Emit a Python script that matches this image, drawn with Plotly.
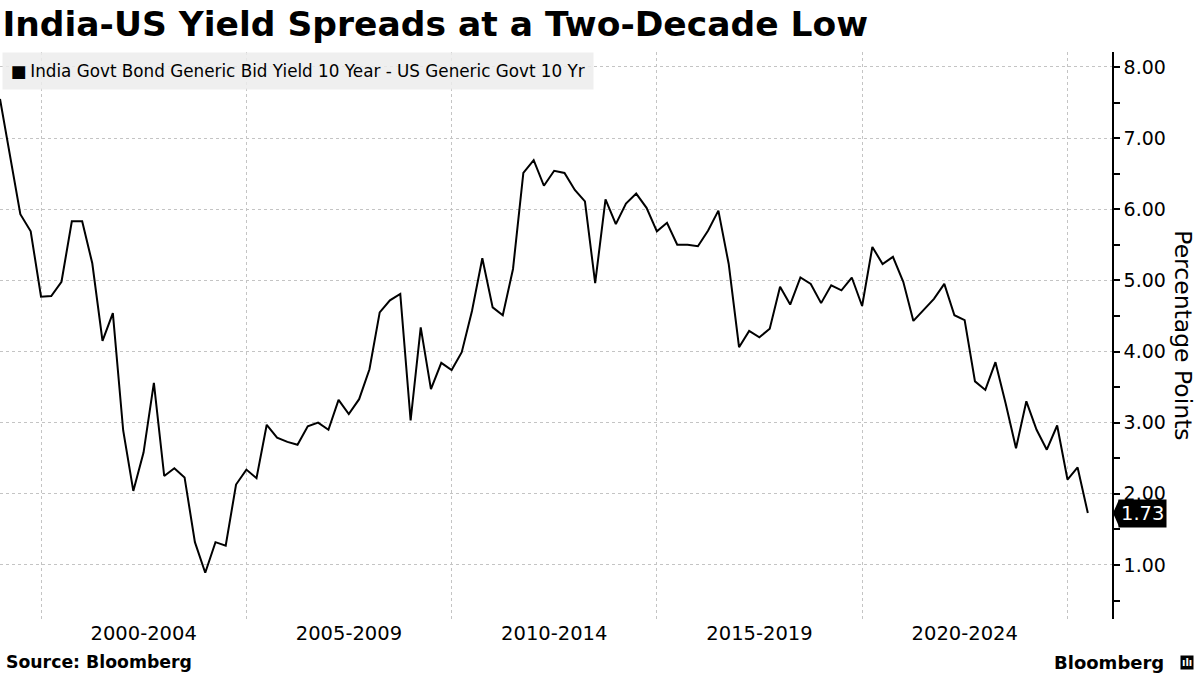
import pandas as pd
import plotly.graph_objects as go

# Quarterly spread, India 10Y minus US 10Y (percentage points), 1999Q1 - 2025Q3
spread = [
    7.55, 6.74, 5.93, 5.69, 4.77, 4.78, 4.98, 5.83, 5.83, 5.24,
    4.15, 4.54, 2.89, 2.04, 2.58, 3.56, 2.25, 2.36, 2.23, 1.32,
    0.89, 1.32, 1.27, 2.13, 2.34, 2.22, 2.97, 2.79, 2.73, 2.69,
    2.95, 3.00, 2.90, 3.32, 3.12, 3.33, 3.75, 4.55, 4.72, 4.81,
    3.03, 4.34, 3.47, 3.84, 3.74, 3.99, 4.57, 5.31, 4.62, 4.51,
    5.16, 6.51, 6.69, 6.33, 6.54, 6.51, 6.27,
    6.11, 4.96, 6.14, 5.79, 6.08, 6.22, 6.02, 5.69, 5.81, 5.50,
    5.50, 5.48, 5.70, 5.98, 5.23, 4.06, 4.29, 4.20, 4.32, 4.91,
    4.66, 5.04, 4.95, 4.68, 4.93, 4.86, 5.04,
    4.64, 5.47, 5.23, 5.33, 4.98, 4.43, 4.59, 4.74, 4.95, 4.51,
    4.44, 3.58, 3.46, 3.85, 3.27, 2.64, 3.30, 2.90, 2.62, 2.96,
    2.20, 2.37, 1.73,
]
start_date = "1999-01-01"
dates = pd.date_range(start_date, periods=len(spread), freq="QS")

period_labels = ["2000-2004", "2005-2009", "2010-2014", "2015-2019", "2020-2024"]
period_mids = ["2002-07-02", "2007-07-02", "2012-07-02", "2017-07-02", "2022-07-02"]
period_bounds = ["2000-01-01", "2005-01-01", "2010-01-01", "2015-01-01", "2020-01-01", "2025-01-01"]
y_ticks = [1, 2, 3, 4, 5, 6, 7, 8]
y_minor = [0.5, 1.5, 2.5, 3.5, 4.5, 5.5, 6.5, 7.5]
series_name = "India Govt Bond Generic Bid Yield 10 Year - US Generic Govt 10 Yr"
last_value = spread[-1]

FONT = "DejaVu Sans"
GRID = "#c4c4c4"
PLOT_W = 1112  # plot area width in px (for paper-coordinate conversions)

fig = go.Figure()
fig.add_trace(go.Scatter(
    x=dates, y=spread, mode="lines", name=series_name,
    line=dict(color="black", width=2),
    showlegend=False, hoverinfo="x+y",
))

fig.update_layout(
    width=1200, height=675,
    margin=dict(l=0, r=88, t=52, b=56, autoexpand=False),
    paper_bgcolor="white", plot_bgcolor="white",
    font=dict(family=FONT, color="black"),
    showlegend=False,
    title=dict(
        text="<b>India-US Yield Spreads at a Two-Decade Low</b>",
        x=0.002, xanchor="left", y=0.964, yanchor="middle",
        font=dict(family=FONT, size=34.5, color="black"),
    ),
    xaxis=dict(
        type="date",
        range=[start_date, "2026-02-01"],
        tickmode="array", tickvals=period_mids, ticktext=period_labels,
        showgrid=False, zeroline=False, showline=False, ticks="",
        tickfont=dict(family=FONT, size=19.5, color="black"),
        automargin=False,
        minor=dict(tickmode="array", tickvals=period_bounds, showgrid=True,
                   gridcolor=GRID, griddash="dot", gridwidth=1, ticks=""),
    ),
    yaxis=dict(
        side="right",
        range=[0.24, 8.21],
        tickmode="array", tickvals=y_ticks, tickformat=".2f",
        showgrid=True, gridcolor=GRID, griddash="dot", gridwidth=1,
        zeroline=False, showline=True, linecolor="black", linewidth=1.5,
        ticks="outside", ticklen=6, tickcolor="black", tickwidth=1.5,
        tickfont=dict(family=FONT, size=19, color="black"),
        automargin=False,
        minor=dict(tickmode="array", tickvals=y_minor, ticks="outside",
                   ticklen=6, tickcolor="black", showgrid=False),
    ),
)

# pointer of the last-value tag (chevron), tied to the last value
half = 13.5 / 71.1  # half the tag height, in data units
fig.add_shape(type="path", xref="paper", yref="y",
              path=(f"M {1 + 7/PLOT_W},{last_value + half} "
                    f"L {1 + 1/PLOT_W},{last_value} "
                    f"L {1 + 7/PLOT_W},{last_value - half} Z"),
              fillcolor="black", line=dict(width=0), layer="above")

annotations = [
    # legend
    dict(text="■\u2009" + series_name, x=2 / PLOT_W, y=1, xref="paper", yref="paper",
         showarrow=False, xanchor="left", yanchor="top",
         bgcolor="rgba(236,236,236,0.85)", borderpad=8,
         font=dict(family=FONT, size=16.8, color="black")),
    dict(text="Percentage Points", x=1.064, y=0.5, xref="paper", yref="paper",
         textangle=90, showarrow=False, xanchor="center", yanchor="middle",
         font=dict(family=FONT, size=23.5, color="black")),
    dict(text=f"{last_value:.2f}", x=1, y=last_value, xref="paper", yref="y",
         showarrow=False, xanchor="left", yanchor="middle", xshift=6,
         bgcolor="black", borderpad=2,
         font=dict(family=FONT, size=19.5, color="white")),
    dict(text="<b>Source: Bloomberg</b>", x=4 / PLOT_W, y=-0.076, xref="paper", yref="paper",
         showarrow=False, xanchor="left", yanchor="middle",
         font=dict(family=FONT, size=17.3, color="black")),
    dict(text="<b>Bloomberg</b>", x=1166 / PLOT_W, y=-0.076, xref="paper", yref="paper",
         showarrow=False, xanchor="right", yanchor="middle",
         font=dict(family=FONT, size=18, color="black")),
    dict(text="<b>ılı</b>", x=1194 / PLOT_W, y=-0.076, xref="paper", yref="paper",
         showarrow=False, xanchor="right", yanchor="middle",
         bgcolor="black", borderpad=1,
         font=dict(family=FONT, size=10, color="white")),
]
fig.update_layout(annotations=annotations)

fig.write_html("out.html", config={"displayModeBar": False},
               post_script="document.body.style.margin='0px';")
